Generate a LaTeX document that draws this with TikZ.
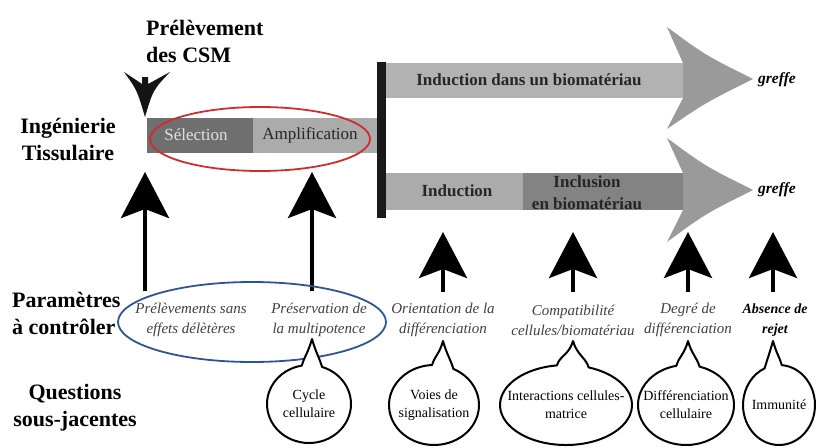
\documentclass[tikz,border=0pt]{standalone}
\usepackage{fontspec}
\setmainfont{Liberation Serif}
\usetikzlibrary{arrows.meta}
\definecolor{shaftc}{HTML}{B2B2B2}
\definecolor{headc}{HTML}{9A9A9A}
\definecolor{selc}{HTML}{6F6F6F}
\definecolor{ampc}{HTML}{ABABAB}
\definecolor{incc}{HTML}{838383}
\definecolor{indc}{HTML}{ABABAB}
\definecolor{redc}{HTML}{D22B2B}
\definecolor{bluec}{HTML}{2F5496}
\newcommand{\qbub}[8]{%
  \pgfmathsetmacro{\qac}{270+asin((#6-(#2))/(#4))}%
  \pgfmathsetmacro{\qaa}{\qac+14}%
  \pgfmathsetmacro{\qab}{\qac-14+360}%
  \pgfmathsetmacro{\qxa}{#2+#4*cos(\qaa)}%
  \pgfmathsetmacro{\qya}{#3+#5*sin(\qaa)}%
  \pgfmathsetmacro{\qxb}{#2+#4*cos(\qab)}%
  \pgfmathsetmacro{\qyb}{#3+#5*sin(\qab)}%
  \draw[bubble] (\qxa,\qya) arc[start angle=\qaa, end angle=\qab, x radius=#4, y radius=#5]
     .. controls (\qxb+3,\qyb-10) and (#6-4,#7+14) .. (#6,#7)
     .. controls (#6+4,#7+14) and (\qxa-3,\qya-10) .. cycle;
  \node[qtext] (#1) at (#2,#3) {#8};
}
\tikzset{
 lab/.style={font=\fontsize{22}{27}\selectfont\bfseries, inner sep=0, align=center},
 bartext/.style={font=\fontsize{17}{22}\selectfont\bfseries, inner sep=0, align=center, text=black!85},
 param/.style={font=\fontsize{15}{20}\selectfont\itshape, inner sep=0, align=center, text=black!75},
 qtext/.style={font=\fontsize{14}{18}\selectfont, inner sep=0, align=center},
 upar/.style={line width=4pt, -{Stealth[length=46pt,width=48pt,inset=9pt]}},
 bubble/.style={draw=black, fill=white, line width=2pt, line join=round},
 seg/.style={inner sep=0, minimum height=35pt, draw=none},
}
\begin{document}
\begin{tikzpicture}[x=1pt,y=-1pt]
\useasboundingbox (0,0) rectangle (816,447);

% left labels
\node[lab, anchor=west, align=left] (prelev) at (146,41) {Prélèvement\\des CSM};
\node[lab] (ingen) at (68,139) {Ingénierie\\Tissulaire};
\node[lab, anchor=west, align=left] (param) at (12,313) {Paramètres\\à contrôler};
\node[lab] (quest) at (75,408) {Questions\\sous-jacentes};

% first bar
\node[seg, fill=selc, minimum width=106pt] (sel) at (200,135.5) {};
\node[seg, fill=ampc, minimum width=125pt] (amp) at (315.5,135.5) {};
\node[font=\fontsize{17}{20}\selectfont, text=black!12, inner sep=0] (seltxt) at (196,135) {Sélection};
\node[font=\fontsize{17}{20}\selectfont, text=black!85, inner sep=0] (amptxt) at (310,135) {Amplification};

% top down arrowhead
\fill[black!92] (124,72) .. controls (137,90) .. (145,117) .. controls (153,90) .. (170,72)
   -- (148,84) -- (148,77) -- (142,77) -- (142,84) -- cycle;

% shafts
\node[seg, fill=shaftc, minimum width=304pt] (topshaft) at (538,80.5) {};
\node[seg, fill=indc, minimum width=137pt, minimum height=37pt] (indshaft) at (454.5,191.5) {};
\node[seg, fill=incc, minimum width=167pt, minimum height=37pt] (incshaft) at (606.5,191.5) {};

% gray heads
\fill[headc] (667,27) .. controls (705,55) .. (753,79) .. controls (705,103) .. (667,129) -- (683,98) -- (683,63) -- cycle;
\fill[headc] (667,138) .. controls (705,166) .. (753,190) .. controls (705,214) .. (667,242) -- (683,210) -- (683,173) -- cycle;

% black vertical bar
\node[fill=black!90, inner sep=0, minimum width=9pt, minimum height=156pt] (vbar) at (381.5,140) {};

\node[bartext] (t1) at (529,80) {Induction dans un biomatériau};
\node[bartext] (t2) at (457,191) {Induction};
\node[bartext] (t3) at (587,193) {Inclusion\\en biomatériau};
\node[font=\fontsize{15.5}{18}\selectfont\bfseries\itshape, inner sep=0] (g1) at (777,80) {greffe};
\node[font=\fontsize{15.5}{18}\selectfont\bfseries\itshape, inner sep=0] (g2) at (777,190) {greffe};

% red ellipse
\draw[redc, line width=1.8pt] (260,139) ellipse [x radius=110, y radius=32];

% up arrows
\coordinate (a1s) at (145,291); \coordinate (a1t) at (145,172);
\coordinate (a2s) at (312,291); \coordinate (a2t) at (312,172);
\coordinate (a3s) at (443,292); \coordinate (a3t) at (443,232);
\coordinate (a4s) at (573,292); \coordinate (a4t) at (573,232);
\coordinate (a5s) at (688,292); \coordinate (a5t) at (688,232);
\coordinate (a6s) at (773,292); \coordinate (a6t) at (773,232);
\foreach \i in {1,...,6} { \draw[upar] (a\i s) -- (a\i t); }

% blue ellipse
\draw[bluec, line width=1.8pt] (252,322) ellipse [x radius=134, y radius=40];

% parameters
\node[param] (p1) at (191,320) {Prélèvements sans\\effets délètères};
\node[param] (p2) at (319,320) {Préservation de\\la multipotence};
\node[param] (p3) at (443,320) {Orientation de la\\différenciation};
\node[param] (p4) at (573,320) {Compatibilité\\cellules/biomatériau};
\node[param] (p5) at (688,320) {Degré de\\différenciation};
\node[param, font=\fontsize{14}{20}\selectfont\bfseries\itshape, text=black] (p6) at (775,320) {Absence de\\rejet};

% bubbles
\qbub{q1}{309}{404}{42}{39}{312}{339}{Cycle\\cellulaire}
\qbub{q2}{434}{405}{45}{40}{443}{341}{Voies de\\signalisation}
\qbub{q3}{566}{405}{66}{40}{573}{341}{Interactions cellules-\\matrice}
\qbub{q4}{686}{405}{48}{40}{688}{341}{Différenciation\\cellulaire}
\qbub{q5}{779}{405}{36}{40}{773}{341}{Immunité}
\end{tikzpicture}
\end{document}
